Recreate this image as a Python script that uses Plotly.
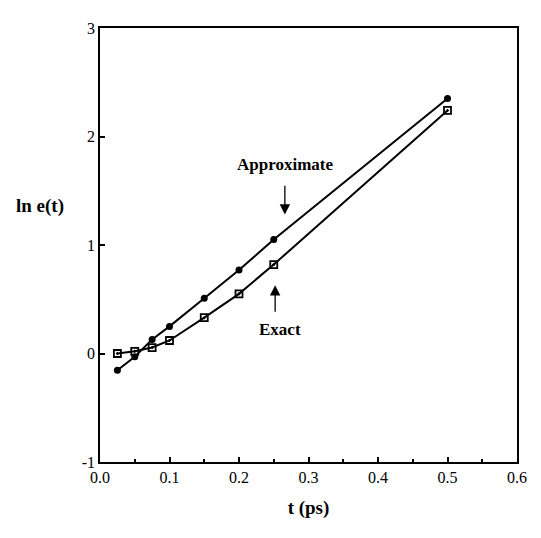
import plotly.graph_objects as go

t_approx = [0.025, 0.05, 0.075, 0.1, 0.15, 0.2, 0.25, 0.5]
ln_approx = [-0.155, -0.03, 0.13, 0.25, 0.51, 0.77, 1.05, 2.35]
t_exact = [0.025, 0.05, 0.075, 0.1, 0.15, 0.2, 0.25, 0.5]
ln_exact = [0.0, 0.02, 0.055, 0.12, 0.33, 0.55, 0.82, 2.24]

x_ticks = [0.0, 0.1, 0.2, 0.3, 0.4, 0.5, 0.6]
x_ticklabels = ["0.0", "0.1", "0.2", "0.3", "0.4", "0.5", "0.6"]
y_ticks = [-1, 0, 1, 2, 3]
y_ticklabels = ["-1", "0", "1", "2", "3"]

FONT = "Liberation Serif"

fig = go.Figure()
fig.add_trace(go.Scatter(
    x=t_approx, y=ln_approx, mode="lines+markers", name="Approximate",
    line=dict(color="black", width=2),
    marker=dict(symbol="circle", size=7, color="black"),
))
fig.add_trace(go.Scatter(
    x=t_exact, y=ln_exact, mode="lines+markers", name="Exact",
    line=dict(color="black", width=2),
    marker=dict(symbol="square-open-dot", size=7, color="black",
                line=dict(width=1.8, color="black")),
))

fig.update_layout(
    width=541, height=538,
    margin=dict(l=92, r=32, t=14, b=84),
    paper_bgcolor="white", plot_bgcolor="white",
    showlegend=False,
    font=dict(family=FONT, size=16, color="black"),
    xaxis=dict(
        range=[0, 0.6], tickvals=x_ticks, ticktext=x_ticklabels,
        ticks="inside", ticklen=5, tickwidth=1.5, tickcolor="black",
        minor=dict(dtick=0.05, ticks="inside", ticklen=3, tickcolor="black"),
        showline=True, linecolor="black", linewidth=1.5, mirror=True,
        showgrid=False, zeroline=False,
        tickfont=dict(family=FONT, size=16),
        title=dict(text="<b>t (ps)</b>", font=dict(family=FONT, size=19), standoff=16),
    ),
    yaxis=dict(
        range=[-1, 3], tickvals=y_ticks, ticktext=y_ticklabels,
        ticks="inside", ticklen=5, tickwidth=1.5, tickcolor="black",
        showline=True, linecolor="black", linewidth=1.5, mirror=True,
        showgrid=False, zeroline=False,
        tickfont=dict(family=FONT, size=16),
    ),
)

fig.add_annotation(text="<b>ln e(t)</b>", xref="paper", yref="paper",
                   x=-0.144, y=0.589, xanchor="center", yanchor="middle",
                   showarrow=False, font=dict(family=FONT, size=19))

fig.add_annotation(text="<b>Approximate</b>", x=0.266, y=1.74, xref="x", yref="y",
                   showarrow=False, font=dict(family=FONT, size=17))
fig.add_annotation(x=0.266, y=1.28, ax=0.266, ay=1.56, xref="x", yref="y",
                   axref="x", ayref="y", text="", showarrow=True,
                   arrowhead=2, arrowsize=1.6, arrowwidth=1.3, arrowcolor="black")

fig.add_annotation(text="<b>Exact</b>", x=0.259, y=0.22, xref="x", yref="y",
                   showarrow=False, font=dict(family=FONT, size=17))
fig.add_annotation(x=0.252, y=0.63, ax=0.252, ay=0.37, xref="x", yref="y",
                   axref="x", ayref="y", text="", showarrow=True,
                   arrowhead=2, arrowsize=1.6, arrowwidth=1.3, arrowcolor="black")

fig.write_html("out.html")
